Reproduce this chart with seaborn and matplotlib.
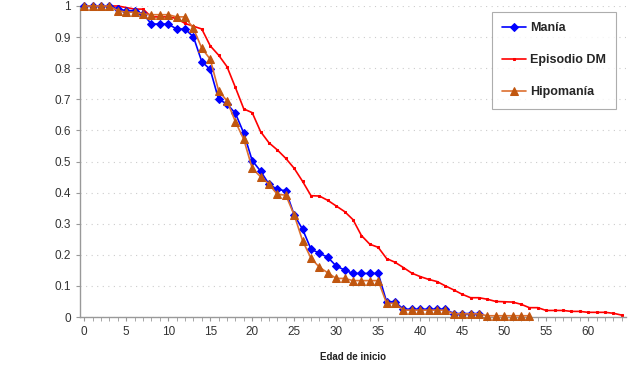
import numpy as np
import pandas as pd
import matplotlib
matplotlib.use("Agg")
import matplotlib.pyplot as plt
import seaborn as sns
from matplotlib.ticker import MultipleLocator

edad_mania = list(range(0, 48))
mania = [1.0, 1.0, 1.0, 1.0, 0.99, 0.985, 0.985, 0.975, 0.942, 0.942,
         0.942, 0.926, 0.926, 0.901, 0.821, 0.796, 0.700, 0.685, 0.655, 0.591,
         0.503, 0.469, 0.427, 0.410, 0.406, 0.328, 0.282, 0.218, 0.205, 0.192,
         0.164, 0.151, 0.140, 0.140, 0.140, 0.140, 0.049, 0.049, 0.025, 0.025,
         0.025, 0.025, 0.025, 0.025, 0.011, 0.011, 0.011, 0.011]

edad_dm = list(range(0, 65))
episodio_dm = [1.0, 1.0, 1.0, 1.0, 1.0, 0.995, 0.99, 0.99, 0.965, 0.965,
               0.965, 0.96, 0.944, 0.935, 0.926, 0.872, 0.842, 0.805, 0.738, 0.669,
               0.657, 0.596, 0.560, 0.537, 0.510, 0.478, 0.436, 0.390, 0.389, 0.375,
               0.357, 0.339, 0.313, 0.262, 0.234, 0.224, 0.188, 0.176, 0.159, 0.141,
               0.130, 0.121, 0.114, 0.100, 0.087, 0.073, 0.062, 0.062, 0.057, 0.050,
               0.049, 0.048, 0.041, 0.030, 0.030, 0.021, 0.021, 0.021, 0.018, 0.018,
               0.015, 0.015, 0.015, 0.012, 0.006]

edad_hipo = list(range(0, 54))
hipomania = [1.0, 1.0, 1.0, 1.0, 0.985, 0.98, 0.98, 0.975, 0.972, 0.972,
             0.972, 0.965, 0.965, 0.928, 0.864, 0.829, 0.728, 0.695, 0.628, 0.571,
             0.478, 0.451, 0.427, 0.394, 0.392, 0.328, 0.245, 0.189, 0.160, 0.142,
             0.124, 0.124, 0.117, 0.117, 0.117, 0.117, 0.044, 0.044, 0.022, 0.022,
             0.022, 0.022, 0.022, 0.022, 0.010, 0.010, 0.010, 0.010, 0.004, 0.004,
             0.004, 0.004, 0.004, 0.004]

x_ticks = list(range(0, 65, 5))
y_ticks = [0, 0.1, 0.2, 0.3, 0.4, 0.5, 0.6, 0.7, 0.8, 0.9, 1]
y_tick_labels = ["0", "0.1", "0.2", "0.3", "0.4", "0.5", "0.6", "0.7", "0.8", "0.9", "1"]

sns.set_style("white")
plt.rcParams['font.family'] = ['Liberation Sans', 'DejaVu Sans']

fig = plt.figure(figsize=(6.4, 3.69), dpi=100)
ax = fig.add_axes([80/640, 1-317/369, (626-80)/640, (317-6)/369])

df_m = pd.DataFrame({"Edad": edad_mania, "v": mania})
df_d = pd.DataFrame({"Edad": edad_dm, "v": episodio_dm})
df_h = pd.DataFrame({"Edad": edad_hipo, "v": hipomania})

sns.lineplot(data=df_m, x="Edad", y="v", ax=ax, color="#0000FF", lw=1.2,
             marker="D", markersize=4.3, markeredgecolor="#0000FF",
             label="Manía", clip_on=False, zorder=3)
sns.lineplot(data=df_d, x="Edad", y="v", ax=ax, color="#FF0000", lw=1.2,
             marker="s", markersize=1.8, markeredgecolor="#FF0000",
             label="Episodio DM", clip_on=False, zorder=2)
sns.lineplot(data=df_h, x="Edad", y="v", ax=ax, color="#DD7030", lw=1.2,
             marker="^", markersize=6, markerfacecolor="#C0560F", markeredgecolor="#C0560F",
             label="Hipomanía", clip_on=False, zorder=4)

ax.set_xlim(-0.5, 64.5)
ax.set_ylim(0, 1)
ax.set_xticks(x_ticks)
ax.xaxis.set_minor_locator(MultipleLocator(1))
ax.set_yticks(y_ticks)
ax.set_yticklabels(y_tick_labels)
ax.tick_params(axis='both', labelsize=8.5, colors='#333333', length=3, width=0.8,
               direction='out', bottom=True, left=True)
ax.tick_params(axis='x', which='minor', length=3, width=0.6, color='#999999', bottom=True)
ax.tick_params(axis='x', which='major', color='#999999')
ax.tick_params(axis='y', color='#999999')
ax.set_xlabel("Edad de inicio", fontsize=7, fontweight='bold', color='#222222', labelpad=10)
ax.set_ylabel("")
ax.grid(axis='y', linestyle=(0, (1, 4)), color='#cccccc', lw=0.8)
for s in ['top', 'right']:
    ax.spines[s].set_visible(False)
for s in ['left', 'bottom']:
    ax.spines[s].set_color('#999999')
    ax.spines[s].set_linewidth(1.0)

leg = ax.legend(loc='upper left', bbox_to_anchor=(492/640, 1-12/369),
                bbox_transform=fig.transFigure, frameon=True, fancybox=False,
                prop={'weight': 'bold', 'size': 9}, labelspacing=1.62,
                handlelength=1.9, borderpad=0.8, handletextpad=0.35,
                borderaxespad=0)
leg.get_frame().set_edgecolor('#999999')
leg.get_frame().set_linewidth(0.8)

fig.savefig("out.png", dpi=100)
